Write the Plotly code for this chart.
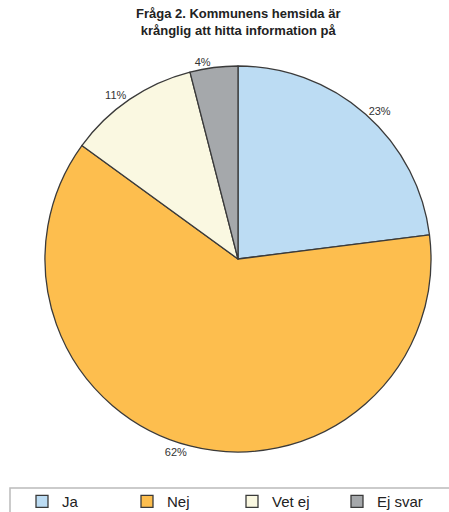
import plotly.graph_objects as go

labels = ["Ja", "Nej", "Vet ej", "Ej svar"]
values = [23, 62, 11, 4]
colors = ["#BCDCF3", "#FDBE4E", "#FAF8E1", "#A5A8AB"]

W, H = 449, 512

fig = go.Figure()
fig.add_trace(go.Pie(
    labels=labels, values=values, sort=False, direction="clockwise", rotation=0,
    marker=dict(colors=colors, line=dict(color="#3A3A3A", width=1.3)),
    textinfo="percent", texttemplate="%{percent:.0%}", textposition="outside",
    textfont=dict(family="Liberation Sans, Arial", size=11, color="#333333"),
    domain=dict(x=[45 / W, 431 / W], y=[1 - 452 / H, 1 - 66 / H]),
    showlegend=True,
))

fig.update_layout(
    width=W, height=H,
    margin=dict(l=0, r=0, t=0, b=0, autoexpand=False),
    paper_bgcolor="white",
    font=dict(family="Liberation Sans, Arial", color="#222222"),
    annotations=[dict(text="<b>Fråga 2. Kommunens hemsida är<br>krånglig att hitta information på</b>",
                      xref="paper", yref="paper", x=238 / W, y=1 - 4 / H,
                      xanchor="center", yanchor="top", showarrow=False,
                      font=dict(size=13, color="#222222"))],
    legend=dict(orientation="h", x=22 / W, xanchor="left", y=-0.012, yanchor="bottom",
                entrywidth=60, font=dict(size=15, color="#222222"),
                bgcolor="rgba(0,0,0,0)", traceorder="normal"),
    shapes=[dict(type="rect", xref="paper", yref="paper",
                 x0=10 / W, x1=1.05, y0=-0.05, y1=1 - 488 / H,
                 line=dict(color="#BBBBBB", width=1.5))],
)

# drop the page's default body margin so the chart sits at the window's corner
fig.write_html("out.html", config={"displayModeBar": False},
               post_script="document.body.style.margin='0';")
